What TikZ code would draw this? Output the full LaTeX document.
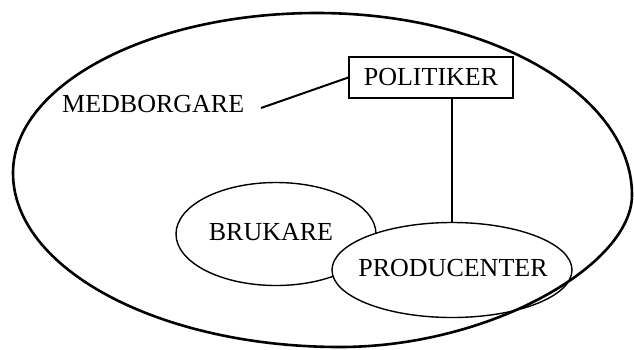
\documentclass[tikz,border=0pt]{standalone}
\usepackage{fontspec}
\setmainfont{Liberation Serif}
\usetikzlibrary{shapes.geometric}
\begin{document}
\begin{tikzpicture}[x=1pt,y=-1pt,
  lbl/.style={font=\fontsize{26}{30}\selectfont, inner sep=0pt},
  oval/.style={draw, ellipse, line width=1.4pt, fill=white, inner sep=0pt},
  boxnode/.style={draw, line width=1.4pt, inner sep=0pt, minimum width=164pt, minimum height=41pt, font=\fontsize{26}{30}\selectfont},
  conn/.style={line width=1.2pt},
  thickconn/.style={line width=2pt},
  outerline/.style={line width=2.6pt}]
\useasboundingbox (0,0) rectangle (634,349);
\node[lbl, anchor=base west] (mtext) at (62,112) {MEDBORGARE};
\node[boxnode] (pol) at (431,77.5) {POLITIKER};
\coordinate (mline) at (261,108);
\node[oval, minimum width=200pt, minimum height=103pt] (bru) at (276,234) {};
\node[lbl] (brutext) at (271,232) {BRUKARE};
\node[oval, minimum width=240pt, minimum height=95pt] (prod) at (452,270) {};
\node[lbl] (prodtext) at (453,268) {PRODUCENTER};
\draw[thickconn] (mline) -- (pol.west);
\draw[conn] (pol.south -| prod.north) -- (prod.north);
\draw[outerline] (317,13) .. controls (491,13) and (632,95) .. (632,195)
  .. controls (632,265) and (490,347) .. (340,347)
  .. controls (159.5,347) and (13,269) .. (13,173)
  .. controls (13,85) and (149,13) .. cycle;
\end{tikzpicture}
\end{document}
